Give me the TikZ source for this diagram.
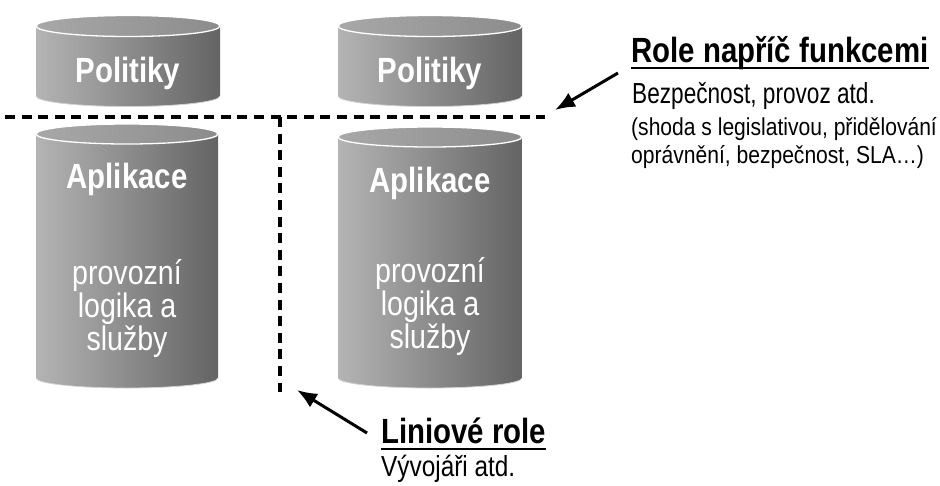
\documentclass[tikz,border=0pt]{standalone}
\usepackage{fontspec}
\setmainfont{Liberation Sans}
\newfontfamily\narrow[FakeStretch=0.84]{Liberation Sans}
\newfontfamily\condensedfont[FakeStretch=0.78]{Liberation Sans}
\newfontfamily\seminarrow[FakeStretch=0.86]{Liberation Sans}
\usepackage{xcolor}
\usepackage{tikz}
\usetikzlibrary{arrows.meta, positioning, calc}

\definecolor{cylLight}{HTML}{B4B4B4}
\definecolor{cylDark}{HTML}{646464}
\definecolor{capLight}{HTML}{A8A8A8}
\definecolor{capDark}{HTML}{8C8C8C}

% drum: centre x, half width, cap centre y, side bottom y, cap radius
\newcommand{\drum}[5]{%
  \shade[left color=cylLight, right color=cylDark]
    ({#1-#2},#3) -- ({#1-#2},#4)
    arc[start angle=180, end angle=360, x radius=#2, y radius=#5]
    -- ({#1+#2},#3) -- cycle;
  \draw[gray!35, line width=0.8pt] ({#1-#2},#4)
    arc[start angle=180, end angle=360, x radius=#2, y radius=#5];
  \shade[left color=capLight, right color=capDark, draw=white, line width=1.3pt]
    (#1,#3) ellipse[x radius=#2, y radius=#5];
}

\begin{document}
\begin{tikzpicture}[x=1pt, y=1pt,
  cyltitle/.style={text=white, font=\narrow\bfseries\fontsize{35}{35}\selectfont, inner sep=0pt, anchor=base},
  cylbody/.style={text=white, font=\narrow\fontsize{34}{31.5}\selectfont, align=center, inner sep=0pt, anchor=base},
  heading/.style={font=\narrow\bfseries\fontsize{35}{35}\selectfont, inner sep=0pt, anchor=base west},
  subtext/.style={font=\condensedfont\fontsize{29}{29}\selectfont, inner sep=0pt, anchor=base west},
  note/.style={font=\seminarrow\fontsize{24.5}{28}\selectfont, align=left, inner sep=0pt, anchor=base west},
  divider/.style={line width=4.5pt, dash pattern=on 10pt off 6.6pt},
  pointer/.style={-{Latex[length=20pt, width=16pt]}, line width=3pt}
]
  \useasboundingbox (0,0) rectangle (940,-485);

  % the four drums
  \drum{128}{92}{-26}{-96}{10.5}
  \drum{430}{92}{-26}{-96}{10.5}
  \drum{127}{91}{-134}{-378}{10}
  \drum{430}{92}{-137}{-378}{10}

  \node[cyltitle] (polL) at (128,-82) {Politiky};
  \node[cyltitle] (polR) at (430,-82) {Politiky};
  \node[cyltitle] (aplL) at (127,-188) {Aplikace};
  \node[cyltitle] (aplR) at (430,-192) {Aplikace};
  % base of a multi-line node is its last line
  \node[cylbody] (logL) at (127,-350) {provozní\\logika a\\služby};
  \node[cylbody] (logR) at (430,-348) {provozní\\logika a\\služby};

  % dashed borders
  \coordinate (hL) at (5,-117);
  \coordinate (hR) at (545,-117);
  \coordinate (vT) at (280,-117);
  \coordinate (vB) at (280,-392);
  \draw[divider] (hL) -- (hR);
  \draw[divider] (vT) -- (vB);

  % cross-functional roles
  \node[heading] (rolefn) at (631,-62) {Role napříč funkcemi};
  \draw[line width=2pt] ($(rolefn.base west)+(0,-6)$) -- ($(rolefn.base east)+(0,-6)$);
  \node[subtext] (bezp) at (632,-103) {Bezpečnost, provoz atd.};
  \node[note] (shoda) at (631,-163) {(shoda s legislativou, přidělování\\oprávnění, bezpečnost, SLA\ldots)};
  \coordinate (crossTip) at (555,-110);
  \draw[pointer] ($(rolefn.base west)+(-13,-11)$) -- (crossTip);

  % line roles
  \node[heading] (linrole) at (381,-443) {Liniové role};
  \draw[line width=2pt] ($(linrole.base west)+(0,-6)$) -- ($(linrole.base east)+(0,-6)$);
  \node[subtext, font=\narrow\fontsize{29}{29}\selectfont] (dev) at (381,-476) {Vývojáři atd.};
  \coordinate (lineTip) at (297,-390);
  \draw[pointer] ($(linrole.base west)+(-14,10)$) -- (lineTip);
\end{tikzpicture}
\end{document}
